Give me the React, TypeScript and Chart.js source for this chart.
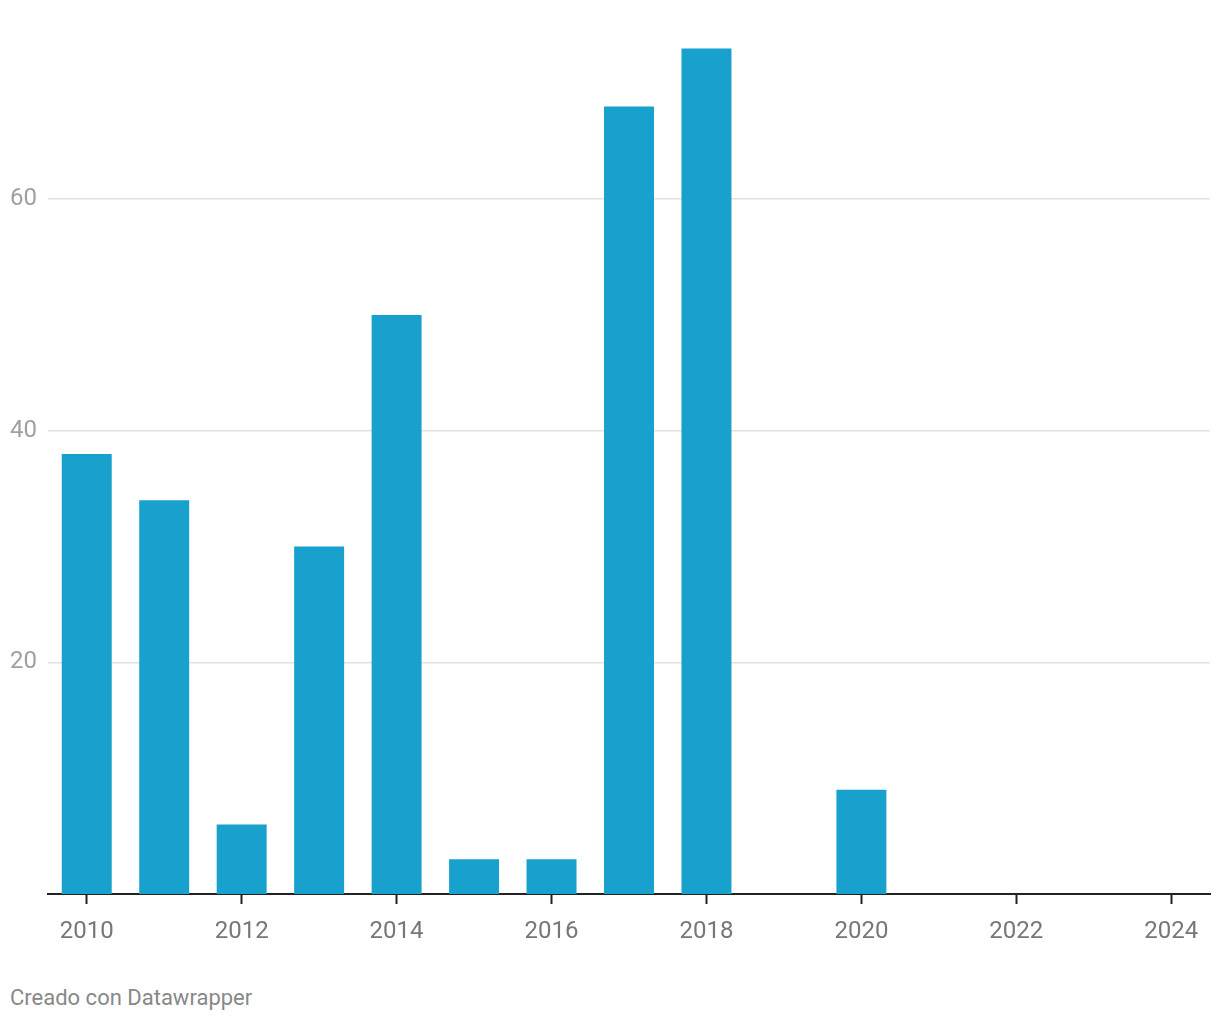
import React, { useEffect, useRef } from "react";
import { Chart, registerables } from "chart.js";

Chart.register(...registerables);

const years = ["2010","2011","2012","2013","2014","2015","2016","2017","2018","2019","2020","2021","2022","2023","2024"];
const values = [38, 34, 6, 30, 50, 3, 3, 68, 73, 0, 9, 0, 0, 0, 0];
const yTicks = [20, 40, 60];
const footer = "Creado con Datawrapper";

export default function App() {
  const ref = useRef<HTMLCanvasElement | null>(null);
  useEffect(() => {
    if (!ref.current) return;
    const chart = new Chart(ref.current, {
      type: "bar",
      data: {
        labels: years,
        datasets: [{
          data: values,
          backgroundColor: "#18a1cd",
          barPercentage: 0.645,
          categoryPercentage: 1,
          borderWidth: 0,
        }],
      },
      options: {
        animation: false,
        responsive: false,
        maintainAspectRatio: false,
        layout: { padding: { top: 24, right: 10, left: 0, bottom: 0 } },
        plugins: { legend: { display: false }, tooltip: { enabled: false } },
        scales: {
          x: {
            offset: true,
            grid: {
              offset: false,
              drawOnChartArea: false,
              drawTicks: true,
              tickLength: 10,
              tickWidth: 2,
              tickColor: (c: any) => (c.index % 2 === 0 ? "#222" : "rgba(0,0,0,0)"),
            },
            border: { display: true, color: "#222", width: 2 },
            ticks: {
              autoSkip: false,
              maxRotation: 0,
              padding: 14,
              color: "#777",
              font: { family: "Roboto", size: 24 },
              callback: (v: any, i: number) => (i % 2 === 0 ? years[i] : ""),
            },
            afterFit: (s: any) => { s.height = 66; },
          },
          y: {
            min: 0,
            max: 75,
            afterBuildTicks: (s: any) => { s.ticks = yTicks.map((v) => ({ value: v })); },
            grid: { color: "#e2e2e2", lineWidth: 1.5, drawTicks: false },
            border: { display: false },
            ticks: {
              padding: 11,
              color: "#a0a0a0",
              font: { family: "Roboto", size: 24 },
            },
            afterFit: (s: any) => { s.width = 48; },
          },
        },
      },
    });
    return () => chart.destroy();
  }, []);
  return (
    <div style={{ position: "absolute", left: 0, top: 0, width: 1220, height: 1020, background: "#fff" }}>
      <canvas ref={ref} width={1220} height={960} style={{ display: "block" }} />
      <div style={{ position: "absolute", left: 10, top: 985, fontFamily: "Roboto", fontSize: 22, color: "#888", lineHeight: "26px" }}>{footer}</div>
    </div>
  );
}
